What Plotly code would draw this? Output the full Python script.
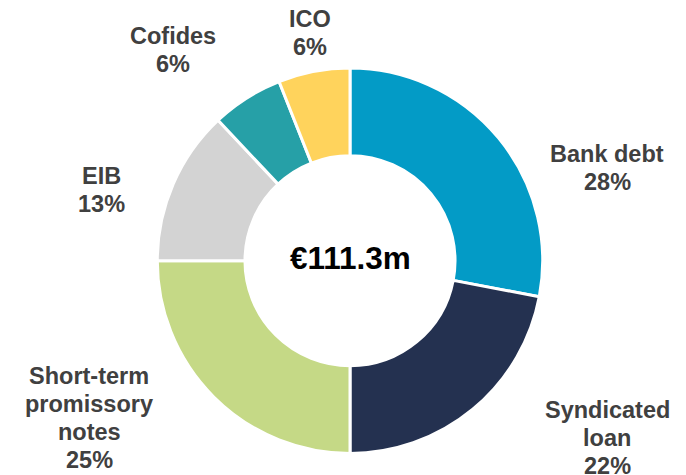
import plotly.graph_objects as go

labels = ["Bank debt", "Syndicated loan", "Short-term promissory notes", "EIB", "Cofides", "ICO"]
label_lines = [["Bank debt"], ["Syndicated", "loan"], ["Short-term", "promissory", "notes"], ["EIB"], ["Cofides"], ["ICO"]]
values = [28, 22, 25, 13, 6, 6]
colors = ["#039BC6", "#243150", "#C5D986", "#D3D3D3", "#26A0A7", "#FFD35C"]
total_text = "€111.3m"

W, H = 686, 475
OFF = 8  # page body margin offset

def px(x, y):
    return (x - OFF) / W, 1 - (y - OFF) / H

# label block centres (pixels in the page) for each slice, same order
label_centres = [(607, 168), (607, 438), (89, 418), (102, 190), (173, 50), (310, 33)]
LINE = 27.7

cx, cy, r = 350, 260.7, 192.7
x0, _ = px(cx - r, 0)
x1, _ = px(cx + r, 0)
_, ytop = px(0, cy - r)
_, ybot = px(0, cy + r)

fig = go.Figure(go.Pie(
    labels=labels,
    values=values,
    hole=0.545,
    sort=False,
    direction="clockwise",
    rotation=0,
    marker=dict(colors=colors, line=dict(color="white", width=3)),
    textinfo="none",
    hoverinfo="label+percent",
    domain=dict(x=[x0, x1], y=[ybot, ytop]),
    showlegend=False,
))

total = sum(values)
font = dict(family="Liberation Sans, Arial, sans-serif", size=23.5, color="#404040")
annotations = []
for lines, v, (lx, ly) in zip(label_lines, values, label_centres):
    all_lines = lines + [f"{round(100 * v / total)}%"]
    n = len(all_lines)
    for i, t in enumerate(all_lines):
        yy = ly + (i - (n - 1) / 2) * LINE
        ax, ay = px(lx, yy)
        annotations.append(dict(
            x=ax, y=ay, xref="paper", yref="paper",
            text=f"<b>{t}</b>", showarrow=False, xanchor="center", yanchor="middle",
            font=font,
        ))
ax, ay = px(350, 258)
annotations.append(dict(
    x=ax, y=ay, xref="paper", yref="paper",
    text=f"<b>{total_text}</b>", showarrow=False, xanchor="center", yanchor="middle",
    font=dict(family="Liberation Sans, Arial, sans-serif", size=31.5, color="#000000"),
))

fig.update_layout(
    width=W, height=H,
    margin=dict(l=0, r=0, t=0, b=0),
    paper_bgcolor="white",
    plot_bgcolor="white",
    annotations=annotations,
)

fig.write_html("out.html")
